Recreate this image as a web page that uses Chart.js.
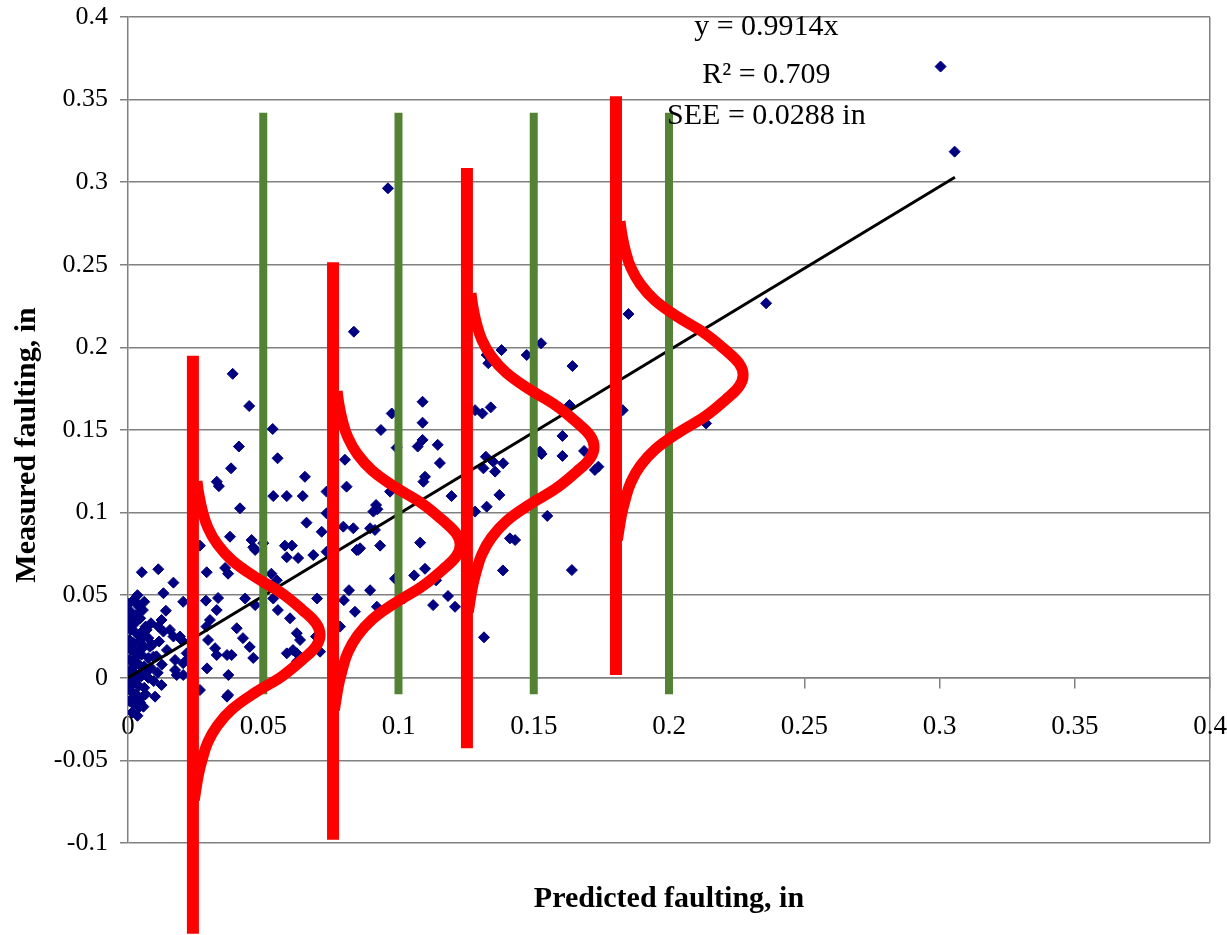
<!DOCTYPE html>
<html>
<head>
<meta charset="utf-8">
<script src="https://cdn.jsdelivr.net/npm/chart.js@4.4.1/dist/chart.umd.min.js"></script>
<style>
  html, body { margin: 0; padding: 0; background: #fff; }
  #wrap { width: 1227px; height: 935px; }
</style>
</head>
<body>
<div id="wrap"><canvas id="chart" width="1227" height="935"></canvas></div>
<script>
// Measured vs predicted faulting, with fitted line and error spread

// Section data (predicted, measured), in
const predicted = [
    0.0005, 0.002, 0.004, 0.001, 0.003, 0.0055, 0.0008, 0.0025, 0.0045, 0.0065,
    0.001, 0.003, 0.0052, 0.0075, 0.0005, 0.002, 0.004, 0.006, 0.009, 0.001,
    0.003, 0.005, 0.0075, 0.0005, 0.002, 0.004, 0.006, 0.0085, 0.001, 0.003,
    0.005, 0.0075, 0.0005, 0.002, 0.004, 0.006, 0.001, 0.003, 0.005, 0.0005,
    0.002, 0.004, 0.0015, 0.0035, 0.0105, 0.011, 0.0095, 0.0125, 0.0115, 0.0085,
    0.006, 0.0035, 0.0015, 0.0035, 0.0005, 0.0025, 0.0045, 0.0015, 0.0035, 0.0005,
    0.0025, 0.0045, 0.0065, 0.0065, 0.0015, 0.0055,
    0.0051, 0.0112, 0.0168, 0.0131, 0.014, 0.0204, 0.0291, 0.0359, 0.037, 0.0288,
    0.0333, 0.0328, 0.0433, 0.047, 0.0303, 0.029, 0.0402, 0.0425, 0.045, 0.0366,
    0.0322, 0.0296, 0.0292, 0.0371, 0.0366, 0.0463, 0.0537, 0.0554, 0.0599, 0.0624,
    0.0636, 0.061, 0.058, 0.0606, 0.0587, 0.0463, 0.05, 0.053, 0.055, 0.0629,
    0.0266, 0.0124, 0.0112, 0.0131, 0.0155, 0.0168, 0.0192, 0.0198, 0.0174, 0.0204,
    0.0174, 0.0217, 0.0217, 0.0144, 0.018, 0.0204, 0.0124, 0.01, 0.0057, 0.0081,
    0.0094, 0.0069, 0.0387, 0.0448, 0.0535, 0.041, 0.0553, 0.0381, 0.0328, 0.0336,
    0.0654, 0.0537, 0.0587, 0.0646, 0.0414, 0.066, 0.0716, 0.0377, 0.0457, 0.047,
    0.0685, 0.0734, 0.0734, 0.0802, 0.0808, 0.0796, 0.0833, 0.0845, 0.0734, 0.0835,
    0.1089, 0.0975, 0.1089, 0.0935, 0.0993, 0.1071, 0.1089, 0.1145, 0.1153, 0.1098,
    0.1092, 0.0969, 0.1196, 0.0917, 0.0907, 0.0922, 0.0895, 0.0913, 0.0858, 0.0851,
    0.0932, 0.108, 0.1283, 0.1283, 0.185, 0.1381, 0.1326, 0.1332, 0.1474, 0.1527,
    0.1643, 0.131, 0.1341, 0.1632, 0.1829, 0.1606, 0.1523, 0.1529, 0.1606, 0.1686,
    0.1726, 0.1739, 0.1323, 0.135, 0.1387, 0.1314, 0.1357, 0.1373, 0.1326, 0.155,
    0.1412, 0.1431, 0.2359, 0.2137, 0.1641, 0.1316, 0.1386, 0.0961, 0.3004, 0.3056,
    0.0266, 0.037, 0.0328, 0.0383, 0.0587, 0.0624, 0.071, 0.0699, 0.0798, 0.0817,
    0.0839, 0.0895, 0.092, 0.0987, 0.1021, 0.1058, 0.1098, 0.1128, 0.1209, 0.1139,
    0.0695, 0.0625, 0.0784, 0.1183
];
const measured = [
    0.045, 0.047, 0.043, 0.04, 0.038, 0.041, 0.035, 0.033, 0.036, 0.031,
    0.029, 0.027, 0.028, 0.024, 0.023, 0.021, 0.022, 0.019, 0.02, 0.017,
    0.015, 0.014, 0.012, 0.011, 0.009, 0.008, 0.007, 0.006, 0.004, 0.002,
    0.001, 0.0, -0.001, -0.003, -0.005, -0.006, -0.008, -0.01, -0.012, -0.014,
    -0.016, -0.018, -0.021, -0.023, 0.013, 0.003, -0.002, 0.008, 0.022, 0.033,
    0.046, 0.05, 0.032, 0.045, 0.018, 0.012, 0.018, 0.006, -0.0005, -0.006,
    -0.012, -0.015, 0.003, -0.01, 0.037, 0.025,
    0.0639, 0.0657, 0.0576, 0.0512, 0.0406, 0.046, 0.0639, 0.0665, 0.063, 0.0467,
    0.0483, 0.041, 0.048, 0.044, 0.035, 0.031, 0.03, 0.024, 0.0187, 0.0138,
    0.0179, 0.0229, 0.0057, 0.0017, -0.0114, 0.012, 0.048, 0.041, 0.036, 0.027,
    0.0229, 0.0168, 0.08, 0.08, 0.073, 0.079, 0.0815, 0.063, 0.059, 0.0725,
    0.08, 0.035, 0.031, 0.028, 0.029, 0.025, 0.025, 0.0229, 0.0108, 0.0088,
    0.0047, 0.0148, 0.0108, 0.0168, 0.0017, 0.0017, -0.0044, -0.0114, -0.0175, 0.0188,
    0.0128, 0.029, 0.184, 0.1645, 0.1506, 0.14, 0.1329, 0.1268, 0.1187, 0.116,
    0.1217, 0.11, 0.11, 0.11, 0.1026, 0.0939, 0.0884, 0.0854, 0.0834, 0.0774,
    0.0743, 0.1127, 0.0996, 0.132, 0.1157, 0.0915, 0.0905, 0.0774, 0.0763, 0.2095,
    0.1671, 0.16, 0.1544, 0.15, 0.1393, 0.14, 0.144, 0.141, 0.13, 0.1217,
    0.1187, 0.1127, 0.11, 0.1046, 0.1006, 0.102, 0.0905, 0.0895, 0.0784, 0.0774,
    0.08, 0.0818, 0.162, 0.1006, 0.2202, 0.1984, 0.1954, 0.1904, 0.1954, 0.2025,
    0.1887, 0.16, 0.1637, 0.1651, 0.162, 0.1464, 0.1369, 0.1355, 0.1343, 0.1373,
    0.1258, 0.1278, 0.1338, 0.1308, 0.1298, 0.1268, 0.1248, 0.1107, 0.1036, 0.098,
    0.0844, 0.0834, 0.2267, 0.154, 0.0652, 0.0245, 0.065, 0.2963, 0.37, 0.3185,
    -0.0074, -0.0104, 0.0138, 0.0138, 0.0148, 0.0148, 0.0158, 0.048, 0.047, 0.053,
    0.04, 0.053, 0.043, 0.06, 0.048, 0.062, 0.066, 0.044, 0.043, 0.059,
    0.025, 0.01, 0.031, 0.0495
];

// Axis tick labels
const xTickLabels = ['0', '0.05', '0.1', '0.15', '0.2', '0.25', '0.3', '0.35', '0.4'];
const yTickLabels = ['-0.1', '-0.05', '0', '0.05', '0.1', '0.15', '0.2', '0.25', '0.3', '0.35', '0.4'];

// Fitted line y = 0.9914x
const fitX = [0, 0.3057];
const fitY = [0, 0.303];

// Green reference lines
const guideX = [0.05, 0.1, 0.15, 0.2];
const guideLow = -0.01;
const guideHigh = 0.342;

// Red bars with sideways normal curves
const barX = [0.024, 0.0758, 0.1253, 0.1804];
const barLow = [-0.155, -0.098, -0.0426, 0.0017];
const barHigh = [0.195, 0.2516, 0.3086, 0.352];
const curveMid = [0.026, 0.0804, 0.1397, 0.1833];
// curve shape: offset along y, bulge along x
const curveDy = [0.093, 0.085, 0.075, 0.065, 0.055, 0.045, 0.035, 0.025, 0.015, 0.007, 0,
    -0.007, -0.015, -0.025, -0.035, -0.045, -0.055, -0.065, -0.075, -0.085, -0.1];
const curveDx = [0.0015, 0.0022, 0.0035, 0.0055, 0.009, 0.0145, 0.023, 0.033, 0.0405, 0.0455, 0.047,
    0.0455, 0.0405, 0.033, 0.023, 0.0145, 0.009, 0.0055, 0.0035, 0.002, 0.0005];

const equationLines = ['y = 0.9914x', 'R\u00B2 = 0.709', 'SEE = 0.0288 in'];

const SERIF = '"Liberation Serif", "Times New Roman", serif';
const GRID = '#808080';
const RED = '#ff0000';
const GREEN = '#548235';

const datasets = [];

// red curves and bars on top
barX.forEach((bx, i) => {
    datasets.push({
        data: curveDy.map((dy, k) => ({ x: bx + curveDx[k], y: curveMid[i] + dy })),
        showLine: true,
        borderColor: RED,
        borderWidth: 11,
        borderCapStyle: 'butt',
        borderJoinStyle: 'round',
        tension: 0.4,
        pointRadius: 0,
        clip: false,
        order: 0
    });
    datasets.push({
        data: [{ x: bx, y: barLow[i] }, { x: bx, y: barHigh[i] }],
        showLine: true,
        borderColor: RED,
        borderWidth: 12,
        borderCapStyle: 'butt',
        pointRadius: 0,
        clip: false,
        order: 1
    });
});

guideX.forEach(gx => {
    datasets.push({
        data: [{ x: gx, y: guideLow }, { x: gx, y: guideHigh }],
        showLine: true,
        borderColor: GREEN,
        borderWidth: 8,
        borderCapStyle: 'butt',
        pointRadius: 0,
        order: 2
    });
});

datasets.push({
    data: fitX.map((x, i) => ({ x: x, y: fitY[i] })),
    showLine: true,
    borderColor: '#000',
    borderWidth: 3,
    pointRadius: 0,
    order: 3
});

datasets.push({
    data: predicted.map((x, i) => ({ x: x, y: measured[i] })),
    pointStyle: 'rectRot',
    pointRadius: 5.5,
    backgroundColor: '#000080',
    borderColor: '#000080',
    borderWidth: 1,
    order: 4
});

// Equation text and axis titles
const textPlugin = {
    id: 'textPlugin',
    afterDraw(chart) {
        const { ctx, chartArea, scales } = chart;
        const x = scales.x;
        const y = scales.y;
        ctx.save();
        ctx.fillStyle = '#000';
        ctx.textAlign = 'center';
        ctx.textBaseline = 'alphabetic';
        ctx.font = '30px ' + SERIF;
        const cx = x.getPixelForValue(0.236);
        [0.389, 0.36, 0.335].forEach((v, i) => {
            ctx.fillText(equationLines[i], cx, y.getPixelForValue(v));
        });

        ctx.font = 'bold 30px ' + SERIF;
        ctx.fillText('Predicted faulting, in', (chartArea.left + chartArea.right) / 2, 907);

        ctx.translate(27, 445);
        ctx.rotate(-Math.PI / 2);
        ctx.textBaseline = 'middle';
        ctx.fillText('Measured faulting, in', 0, 0);
        ctx.restore();
    }
};

new Chart(document.getElementById('chart'), {
    type: 'scatter',
    data: { datasets: datasets },
    options: {
        responsive: false,
        animation: false,
        events: [],
        layout: {
            padding: { top: 17, right: 17, bottom: 92, left: 0 }
        },
        plugins: {
            legend: { display: false },
            tooltip: { enabled: false }
        },
        scales: {
            x: {
                type: 'linear',
                position: { y: 0 },
                min: 0,
                max: 0.4,
                ticks: {
                    stepSize: 0.05,
                    padding: 23,
                    maxRotation: 0,
                    autoSkip: false,
                    color: '#000',
                    font: { family: SERIF, size: 27 },
                    callback: (v, i) => xTickLabels[i]
                },
                grid: {
                    color: ctx => ctx.index === xTickLabels.length - 1 ? GRID : 'rgba(0,0,0,0)',
                    tickColor: GRID,
                    tickLength: 10,
                    lineWidth: 1.5
                },
                border: { display: true, color: GRID, width: 1.5 },
                afterFit: scale => {
                    scale.paddingLeft = 0;
                    scale.paddingRight = 0;
                }
            },
            y: {
                type: 'linear',
                min: -0.1,
                max: 0.4,
                ticks: {
                    stepSize: 0.05,
                    padding: 12,
                    color: '#000',
                    font: { family: SERIF, size: 26 },
                    callback: (v, i) => yTickLabels[i]
                },
                grid: {
                    color: GRID,
                    lineWidth: 1.5,
                    tickLength: 8
                },
                border: { display: true, color: GRID, width: 1.5 },
                afterFit: scale => {
                    scale.width = 128;
                    scale.paddingTop = 0;
                    scale.paddingBottom = 0;
                }
            }
        }
    },
    plugins: [textPlugin]
});
</script>
</body>
</html>
